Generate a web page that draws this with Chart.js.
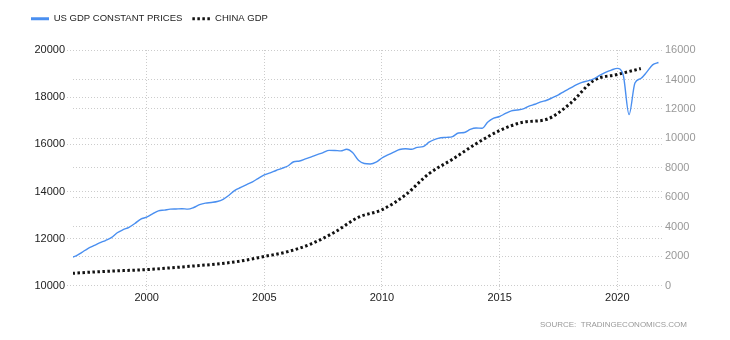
<!DOCTYPE html>
<html>
<head>
<meta charset="utf-8">
<script src="https://cdn.jsdelivr.net/npm/chart.js@4/dist/chart.umd.min.js"></script>
<style>
  html, body { margin: 0; padding: 0; background: #ffffff; }
  #wrap { width: 730px; height: 340px; position: relative; }
</style>
</head>
<body>
<div id="wrap"><canvas id="c" width="730" height="340"></canvas></div>
<script>
// ---------- DATA ----------
const seriesNames = ['US GDP CONSTANT PRICES', 'CHINA GDP'];

// US real GDP (billions, quarterly), first value = 1996 Q3
const usFirstQuarter = { year: 1996, quarter: 3 };
const usGdpConstant = [
  11190, 11270,
  11420, 11580, 11700, 11820,
  11920, 12040, 12250, 12380,
  12480, 12640, 12830, 12910,
  13050, 13180, 13210, 13250,
  13260, 13270, 13250, 13320,
  13440, 13505, 13535, 13575,
  13670, 13840, 14050, 14170,
  14290, 14410, 14560, 14700,
  14790, 14890, 14980, 15080,
  15260, 15295, 15380, 15470,
  15565, 15650, 15745, 15740,
  15720, 15790, 15650, 15320,
  15185, 15165, 15240, 15420,
  15550, 15670, 15780, 15810,
  15790, 15872, 15900, 16090,
  16210, 16280, 16295, 16330,
  16480, 16500, 16630, 16690,
  16680, 16950, 17110, 17180,
  17310, 17420, 17455, 17500,
  17620, 17700, 17800, 17870,
  17980, 18100, 18250, 18380,
  18520, 18630, 18690, 18780,
  18920, 19050, 19150, 19220,
  18950, 17260, 18600, 18790,
  19060, 19370, 19470
];

// China GDP (billions USD, annual)
const chinaYears = [1995, 1996, 1997, 1998, 1999, 2000, 2001, 2002, 2003, 2004, 2005, 2006, 2007,
  2008, 2009, 2010, 2011, 2012, 2013, 2014, 2015, 2016, 2017, 2018, 2019, 2020];
const chinaGdp = [740, 860, 960, 1030, 1100, 1215, 1345, 1480, 1680, 1990, 2320, 2850, 3650,
  4650, 5160, 6170, 7610, 8590, 9640, 10530, 11100, 11300, 12370, 13930, 14340, 14740];

const xTickYears = [2000, 2005, 2010, 2015, 2020];
const leftTicks = [10000, 12000, 14000, 16000, 18000, 20000];
const rightTicks = [0, 2000, 4000, 6000, 8000, 10000, 12000, 14000, 16000];
const sourceText = 'SOURCE:  TRADINGECONOMICS.COM';

// ---------- BUILD ----------
const FONT = '"Liberation Sans", Arial, sans-serif';
const usStart = usFirstQuarter.year + usFirstQuarter.quarter / 4;   // quarter-end positioning
const usPoints = usGdpConstant.map((v, i) => ({ x: usStart + i / 4, y: v }));
const chinaPoints = chinaYears.map((yr, i) => ({ x: yr + 1, y: chinaGdp[i] })); // year-end positioning

const US_COLOR = '#4a8ff0';
const CN_COLOR = '#111111';
const CN_DASH = [2.5, 2.5];
const GRID = '#cccccc';
const DOT = [1, 2];

const legendSpacer = {
  id: 'legendSpacer',
  beforeUpdate(chart) {
    const lg = chart.legend;
    if (lg && !lg._spaced) {
      const orig = lg.fit;
      lg.fit = function () { orig.call(this); this.height = 46; };
      lg._spaced = true;
    }
  }
};

const sourceLabel = {
  id: 'sourceLabel',
  afterDraw(chart) {
    const ctx = chart.ctx;
    ctx.save();
    ctx.font = '8px ' + FONT;
    ctx.fillStyle = '#999999';
    ctx.textAlign = 'right';
    ctx.textBaseline = 'middle';
    ctx.fillText(sourceText, 687, 325);
    ctx.restore();
  }
};

new Chart(document.getElementById('c'), {
  type: 'line',
  data: {
    datasets: [
      {
        label: seriesNames[0],
        data: usPoints,
        yAxisID: 'y',
        borderColor: US_COLOR,
        backgroundColor: US_COLOR,
        borderWidth: 1.4,
        pointRadius: 0,
        cubicInterpolationMode: 'monotone',
        fill: false,
        clip: 0
      },
      {
        label: seriesNames[1],
        data: chinaPoints,
        yAxisID: 'y1',
        borderColor: CN_COLOR,
        backgroundColor: CN_COLOR,
        borderWidth: 3,
        borderDash: CN_DASH,
        pointRadius: 0,
        cubicInterpolationMode: 'monotone',
        fill: false,
        clip: 0
      }
    ]
  },
  options: {
    responsive: false,
    devicePixelRatio: 1,
    animation: false,
    events: [],
    layout: { padding: { left: 21, right: 20, top: 4, bottom: 35 } },
    plugins: {
      tooltip: { enabled: false },
      title: { display: false },
      legend: {
        display: true,
        position: 'top',
        align: 'start',
        labels: {
          usePointStyle: true,
          pointStyleWidth: 18,
          padding: 10,
          color: '#222222',
          font: { family: FONT, size: 9.5 },
          generateLabels: (chart) => chart.data.datasets.map((ds, i) => ({
            text: ds.label,
            fillStyle: ds.borderColor,
            strokeStyle: ds.borderColor,
            lineWidth: 3,
            lineDash: i === 0 ? [] : CN_DASH,
            pointStyle: 'line',
            datasetIndex: i,
            hidden: false,
            fontColor: '#222222'
          }))
        }
      }
    },
    scales: {
      x: {
        type: 'linear',
        min: 1996.87,
        max: 2021.9,
        afterBuildTicks: (s) => { s.ticks = xTickYears.map(v => ({ value: v })); },
        ticks: {
          callback: (v) => String(v),
          color: '#222222',
          padding: 0,
          maxRotation: 0,
          autoSkip: false,
          font: { family: FONT, size: 11 }
        },
        grid: { color: GRID, tickLength: 6, tickColor: GRID, tickBorderDash: DOT },
        border: { display: false, dash: DOT }
      },
      y: {
        position: 'left',
        min: 10000,
        max: 20000,
        afterBuildTicks: (s) => { s.ticks = leftTicks.map(v => ({ value: v })); },
        afterFit: (s) => { s.width = 52; },
        ticks: {
          callback: (v) => String(v),
          color: '#222222',
          padding: 2,
          font: { family: FONT, size: 11 }
        },
        grid: { color: GRID, tickLength: 6, tickColor: GRID, tickBorderDash: DOT },
        border: { display: false, dash: DOT }
      },
      y1: {
        position: 'right',
        min: 0,
        max: 16000,
        afterBuildTicks: (s) => { s.ticks = rightTicks.map(v => ({ value: v })); },
        afterFit: (s) => { s.width = 48; },
        ticks: {
          callback: (v) => String(v),
          color: '#999999',
          padding: 3,
          font: { family: FONT, size: 11 }
        },
        grid: { color: GRID, drawTicks: false },
        border: { display: false, dash: DOT }
      }
    }
  },
  plugins: [legendSpacer, sourceLabel]
});
</script>
</body>
</html>
